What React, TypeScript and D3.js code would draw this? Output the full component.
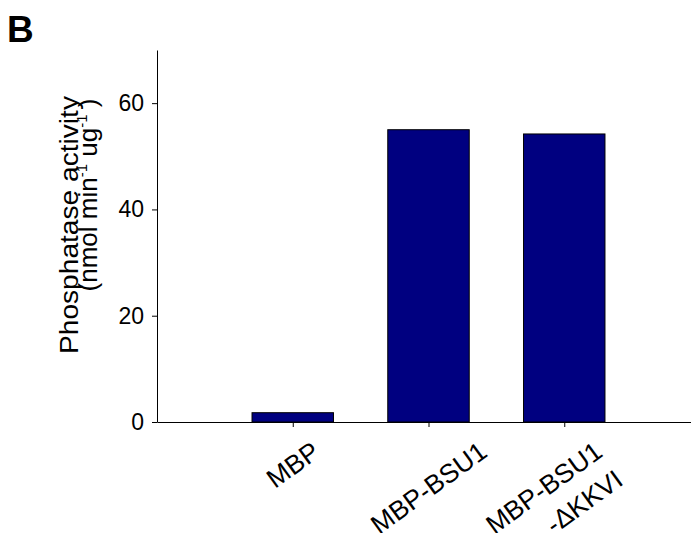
// App.tsx
import React, { useRef, useEffect } from 'react';
import * as d3 from 'd3';

const categories = ['MBP', 'MBP-BSU1', 'MBP-BSU1\n-ΔKKVI'];
const activity = [1.75, 55.0, 54.2];
const yTicks = [0, 20, 40, 60];

const FONT = '"Liberation Sans", Arial, Helvetica, sans-serif';

const App = () => {
  const svgRef = useRef<SVGSVGElement>(null);
  const width = 691;
  const height = 533;

  useEffect(() => {
    if (!svgRef.current) return;
    document.body.style.margin = '0';

    const svg = d3.select(svgRef.current);
    svg.selectAll('*').remove();

    const left = 157;
    const top = 50;
    const bottom = 422;

    // categories sit at index 1..n on a linear scale
    const x = d3.scaleLinear().domain([0, categories.length + 1]).range([left, 700]);
    const y = d3.scaleLinear().domain([0, 70]).range([bottom, top]);
    const step = x(1) - x(0);
    const barW = step * 0.6;

    // bars
    svg.append('g')
      .selectAll('rect')
      .data(activity)
      .enter()
      .append('rect')
      .attr('x', (d, i) => x(i + 1) - barW / 2)
      .attr('y', d => y(d))
      .attr('width', barW)
      .attr('height', d => y(0) - y(d))
      .attr('fill', '#000080')
      .attr('stroke', '#000')
      .attr('stroke-width', 1);

    // y axis
    const yAxis = svg.append('g')
      .attr('transform', `translate(${left},0)`)
      .call(d3.axisLeft(y).tickValues(yTicks).tickSize(5).tickPadding(8).tickSizeOuter(0));
    yAxis.select('.domain').attr('stroke', '#000');
    yAxis.selectAll('.tick line').attr('stroke', '#000');
    yAxis.selectAll('.tick text')
      .attr('font-family', FONT)
      .attr('font-size', 23)
      .attr('fill', '#000');

    // x axis
    const xAxis = svg.append('g')
      .attr('transform', `translate(0,${bottom})`)
      .call(d3.axisBottom(x).tickValues(d3.range(1, categories.length + 1)).tickSize(5).tickSizeOuter(0).tickFormat(() => ''));
    xAxis.select('.domain').attr('stroke', '#000');
    xAxis.selectAll('.tick line').attr('stroke', '#000');

    // rotated category labels
    const angle = 36;
    const rad = angle * Math.PI / 180;
    const fs = 26.5;
    const gap = 35;
    const capH = 0.716 * fs;
    categories.forEach((c, i) => {
      const lines = c.split('\n');
      const outer = svg.append('g');
      const text = outer.append('g').attr('transform', `rotate(-${angle})`)
        .append('text')
        .attr('font-family', FONT)
        .attr('font-size', fs)
        .attr('text-anchor', 'end')
        .attr('fill', '#000');
      const pts: [number, number][] = [];
      lines.forEach((line, j) => {
        const ts = text.append('tspan')
          .attr('x', 0)
          .attr('dy', j === 0 ? 0 : gap)
          .text(line);
        const len = (ts.node() as SVGTSpanElement).getComputedTextLength();
        [[0, j * gap], [-len, j * gap], [0, j * gap - capH], [-len, j * gap - capH]].forEach(([px, py]) => {
          pts.push([px * Math.cos(rad) + py * Math.sin(rad), -px * Math.sin(rad) + py * Math.cos(rad)]);
        });
      });
      const [x0, x1] = d3.extent(pts, p => p[0]) as [number, number];
      const y0 = d3.min(pts, p => p[1]) as number;
      const shift = (lines.length - 1) * gap * Math.sin(rad) / 2;
      outer.attr('transform', `translate(${x(i + 1) - (x0 + x1) / 2 - shift},${bottom + 18 - y0})`);
    });

    // y label
    svg.append('text')
      .attr('transform', 'translate(78,225) rotate(-90)')
      .attr('text-anchor', 'middle')
      .attr('font-family', FONT)
      .attr('font-size', 26)
      .attr('textLength', 258)
      .attr('lengthAdjust', 'spacingAndGlyphs')
      .attr('fill', '#000')
      .text('Phosphatase activity');

    const sub = svg.append('text')
      .attr('transform', 'translate(97,195) rotate(-90)')
      .attr('text-anchor', 'middle')
      .attr('font-family', FONT)
      .attr('font-size', 26)
      .attr('fill', '#000');
    sub.append('tspan').text('(nmol min');
    sub.append('tspan').attr('font-size', 15).attr('dy', -10).text('-1');
    sub.append('tspan').attr('dy', 10).text(' ug');
    sub.append('tspan').attr('font-size', 15).attr('dy', -10).text('-1');
    sub.append('tspan').attr('dy', 10).text(' )');

    // panel letter
    svg.append('text')
      .attr('x', 7)
      .attr('y', 42)
      .attr('font-family', FONT)
      .attr('font-size', 37)
      .attr('font-weight', 'bold')
      .attr('fill', '#000')
      .text('B');
  }, []);

  return (
    <svg ref={svgRef} width={width} height={height} style={{ display: 'block', background: '#fff' }}></svg>
  );
};

export default App;
